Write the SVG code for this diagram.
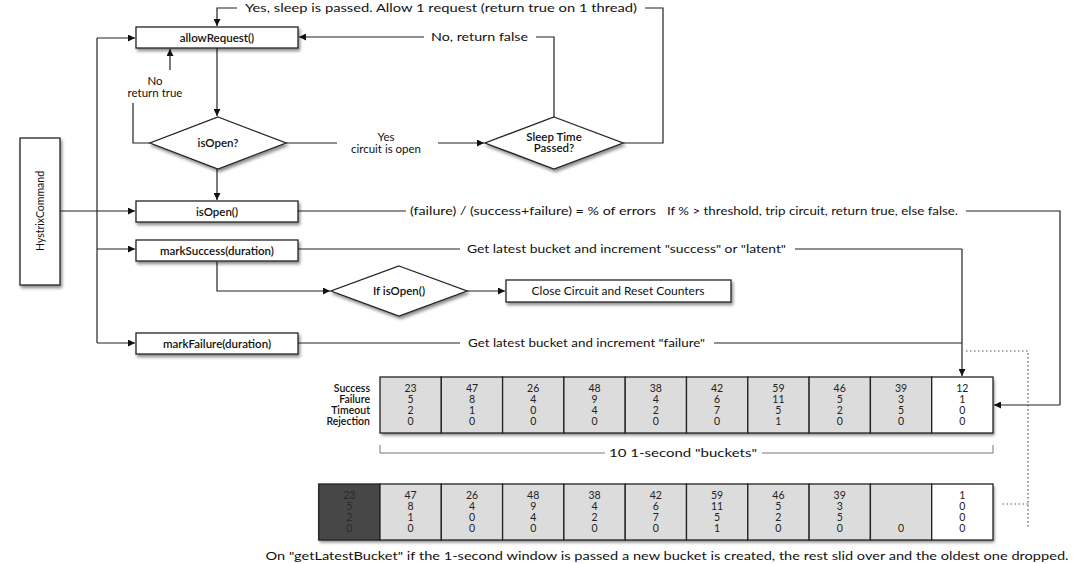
<svg xmlns="http://www.w3.org/2000/svg" width="1080" height="564" viewBox="0 0 1080 564">
<defs>
<marker id="ah" viewBox="0 0 10 10" refX="10" refY="5" markerWidth="9" markerHeight="7" markerUnits="userSpaceOnUse" orient="auto">
<path d="M0,0 L10,5 L0,10 z" fill="#111"/>
</marker>
<filter id="sh" x="-10%" y="-20%" width="125%" height="160%">
<feDropShadow dx="1.5" dy="2.5" stdDeviation="1.8" flood-color="#000" flood-opacity="0.45"/>
</filter>
<style>
text{font-family:Lato,"Open Sans","Liberation Sans",sans-serif;fill:#111}
.box{fill:#fff;stroke:#222;stroke-width:1.3;filter:url(#sh)}
.bt{font-size:11.5px;font-weight:600;text-anchor:middle}
.lbl{font-size:11.5px}
.ln{fill:none;stroke:#222;stroke-width:1.2}
.arr{fill:none;stroke:#222;stroke-width:1.2;marker-end:url(#ah)}
.dot{fill:none;stroke:#555;stroke-width:1.2;stroke-dasharray:1.5 2.5}
.cell{stroke:#222;stroke-width:1.3}
.g{fill:#dcdcdc}
.w{fill:#fff}
.d{fill:#474747}
.num{font-size:10.5px;text-anchor:middle;fill:#222}
.dn{font-size:10.5px;text-anchor:middle;fill:#2a2a2a}
.rl{font-size:10.5px;font-weight:600;text-anchor:end}
.thin{fill:none;stroke:#777;stroke-width:1}
</style>
</defs>
<rect width="1080" height="564" fill="#fff"/>

<g id="connectors">
<path class="ln" d="M97,343 V38"/>
<path class="arr" d="M97,38 H135"/>
<path class="arr" d="M60,211 H135"/>
<path class="arr" d="M97,249 H135"/>
<path class="arr" d="M97,343 H135"/>
<path class="arr" d="M237,8 H217 V26"/>
<path class="ln" d="M645,8 H663 V143 H623"/>
<path class="ln" d="M554,117 V37 H536"/>
<path class="arr" d="M424,37 H299"/>
<path class="arr" d="M217,48 V116"/>
<path class="ln" d="M150,143 H133 V103"/>
<path class="arr" d="M170,70 V49"/>
<path class="ln" d="M286,143 H337"/>
<path class="arr" d="M438,143 H484"/>
<path class="arr" d="M217,169 V200"/>
<path class="ln" d="M298,211 H406"/>
<path class="ln" d="M966,211 H1060 V405"/>
<path class="arr" d="M1060,405 H994"/>
<path class="ln" d="M298,249 H460"/>
<path class="ln" d="M795,249 H962"/>
<path class="arr" d="M962,249 V376"/>
<path class="arr" d="M217,262 V291 H330"/>
<path class="arr" d="M467,291 H505"/>
<path class="ln" d="M298,343 H460"/>
<path class="ln" d="M714,343 H962"/>
<path class="dot" d="M966,351 H1028 V528"/>
<path class="dot" d="M1028,504 H1000"/>
<path class="thin" d="M380,445 V453 H605"/>
<path class="thin" d="M762,453 H993 V445"/>
</g>

<g id="hystrixCommand">
<rect class="box" x="20" y="138" width="40" height="147"/>
<text x="40" y="211" transform="rotate(-90 40 211)" text-anchor="middle" dy="4" font-size="10.5">HystrixCommand</text>
</g>

<g id="allowRequest">
<rect class="box" x="136" y="27" width="162" height="21"/>
<text class="bt" x="217" y="41.5">allowRequest()</text>
</g>

<g id="isOpenDecision">
<polygon class="box" points="218,117 286,143 218,169 150,143"/>
<text class="bt" x="218" y="147">isOpen?</text>
</g>

<g id="sleepTimeDecision">
<polygon class="box" points="554,117 623,143 554,169 485,143"/>
<text class="bt" x="554" y="141" font-size="10.5">Sleep Time</text>
<text class="bt" x="554" y="152" font-size="10.5">Passed?</text>
</g>

<g id="isOpenBox">
<rect class="box" x="136" y="201" width="162" height="21"/>
<text class="bt" x="217" y="215.5">isOpen()</text>
</g>

<g id="markSuccess">
<rect class="box" x="136" y="240" width="162" height="21"/>
<text class="bt" x="217" y="254.5">markSuccess(duration)</text>
</g>

<g id="ifIsOpenDecision">
<polygon class="box" points="399,266 467,291 399,316 331,291"/>
<text class="bt" x="399" y="295">If isOpen()</text>
</g>

<g id="closeCircuit">
<rect class="box" x="506" y="280" width="225" height="22"/>
<text x="618" y="295" text-anchor="middle" font-size="12">Close Circuit and Reset Counters</text>
</g>

<g id="markFailure">
<rect class="box" x="136" y="333" width="162" height="21"/>
<text class="bt" x="217" y="347.5">markFailure(duration)</text>
</g>

<g id="labels">
<text class="lbl" x="245" y="12" textLength="392" lengthAdjust="spacingAndGlyphs">Yes, sleep is passed.  Allow 1 request (return true on 1 thread)</text>
<text class="lbl" x="431" y="41" textLength="97" lengthAdjust="spacingAndGlyphs">No, return false</text>
<text class="lbl" x="155" y="85" text-anchor="middle">No</text>
<text class="lbl" x="155" y="97" text-anchor="middle">return true</text>
<text class="lbl" x="386" y="141" text-anchor="middle">Yes</text>
<text class="lbl" x="386" y="153" text-anchor="middle">circuit is open</text>
<text class="lbl" x="410" y="215" font-size="10.5" textLength="246" lengthAdjust="spacingAndGlyphs">(failure) / (success+failure) = % of errors</text>
<text class="lbl" x="667" y="215" font-size="10.5" textLength="291" lengthAdjust="spacingAndGlyphs">If % &gt; threshold, trip circuit, return true, else false.</text>
<text class="lbl" x="467" y="253" textLength="319" lengthAdjust="spacingAndGlyphs">Get latest bucket and increment "success" or "latent"</text>
<text class="lbl" x="468" y="347" textLength="237" lengthAdjust="spacingAndGlyphs">Get latest bucket and increment "failure"</text>
<text class="lbl" x="683" y="457" text-anchor="middle" font-size="12" textLength="148" lengthAdjust="spacingAndGlyphs">10 1-second "buckets"</text>
<text class="lbl" x="667" y="560" text-anchor="middle" font-size="11" textLength="803" lengthAdjust="spacingAndGlyphs">On "getLatestBucket" if the 1-second window is passed a new bucket is created, the rest slid over and the oldest one dropped.</text>
</g>

<g id="buckets">
<rect x="380" y="377" width="613" height="56" fill="#dcdcdc" filter="url(#sh)"/>
<rect class="cell g" x="380" y="377" width="61.3" height="56"/>
<rect class="cell g" x="441.3" y="377" width="61.3" height="56"/>
<rect class="cell g" x="502.6" y="377" width="61.3" height="56"/>
<rect class="cell g" x="563.9" y="377" width="61.3" height="56"/>
<rect class="cell g" x="625.2" y="377" width="61.3" height="56"/>
<rect class="cell g" x="686.5" y="377" width="61.3" height="56"/>
<rect class="cell g" x="747.8" y="377" width="61.3" height="56"/>
<rect class="cell g" x="809.1" y="377" width="61.3" height="56"/>
<rect class="cell g" x="870.4" y="377" width="61.3" height="56"/>
<rect class="cell w" x="931.7" y="377" width="61.3" height="56"/>
<text class="rl" x="370" y="392">Success</text>
<text class="rl" x="370" y="403">Failure</text>
<text class="rl" x="370" y="414">Timeout</text>
<text class="rl" x="370" y="425">Rejection</text>
<text class="num" x="410.6" y="392">23</text><text class="num" x="410.6" y="403">5</text><text class="num" x="410.6" y="414">2</text><text class="num" x="410.6" y="425">0</text>
<text class="num" x="472" y="392">47</text><text class="num" x="472" y="403">8</text><text class="num" x="472" y="414">1</text><text class="num" x="472" y="425">0</text>
<text class="num" x="533.2" y="392">26</text><text class="num" x="533.2" y="403">4</text><text class="num" x="533.2" y="414">0</text><text class="num" x="533.2" y="425">0</text>
<text class="num" x="594.5" y="392">48</text><text class="num" x="594.5" y="403">9</text><text class="num" x="594.5" y="414">4</text><text class="num" x="594.5" y="425">0</text>
<text class="num" x="655.8" y="392">38</text><text class="num" x="655.8" y="403">4</text><text class="num" x="655.8" y="414">2</text><text class="num" x="655.8" y="425">0</text>
<text class="num" x="717.1" y="392">42</text><text class="num" x="717.1" y="403">6</text><text class="num" x="717.1" y="414">7</text><text class="num" x="717.1" y="425">0</text>
<text class="num" x="778.4" y="392">59</text><text class="num" x="778.4" y="403">11</text><text class="num" x="778.4" y="414">5</text><text class="num" x="778.4" y="425">1</text>
<text class="num" x="839.7" y="392">46</text><text class="num" x="839.7" y="403">5</text><text class="num" x="839.7" y="414">2</text><text class="num" x="839.7" y="425">0</text>
<text class="num" x="901" y="392">39</text><text class="num" x="901" y="403">3</text><text class="num" x="901" y="414">5</text><text class="num" x="901" y="425">0</text>
<text class="num" x="962.3" y="392">12</text><text class="num" x="962.3" y="403">1</text><text class="num" x="962.3" y="414">0</text><text class="num" x="962.3" y="425">0</text>
</g>

<g id="bucketsShifted">
<rect x="318" y="484" width="675" height="56" fill="#dcdcdc" filter="url(#sh)"/>
<rect class="cell d" x="318.7" y="484" width="61.3" height="56"/>
<rect class="cell g" x="380" y="484" width="61.3" height="56"/>
<rect class="cell g" x="441.3" y="484" width="61.3" height="56"/>
<rect class="cell g" x="502.6" y="484" width="61.3" height="56"/>
<rect class="cell g" x="563.9" y="484" width="61.3" height="56"/>
<rect class="cell g" x="625.2" y="484" width="61.3" height="56"/>
<rect class="cell g" x="686.5" y="484" width="61.3" height="56"/>
<rect class="cell g" x="747.8" y="484" width="61.3" height="56"/>
<rect class="cell g" x="809.1" y="484" width="61.3" height="56"/>
<rect class="cell g" x="870.4" y="484" width="61.3" height="56"/>
<rect class="cell w" x="931.7" y="484" width="61.3" height="56"/>
<text class="dn" x="349.3" y="499">23</text><text class="dn" x="349.3" y="510">5</text><text class="dn" x="349.3" y="521">2</text><text class="dn" x="349.3" y="532">0</text>
<text class="num" x="410.6" y="499">47</text><text class="num" x="410.6" y="510">8</text><text class="num" x="410.6" y="521">1</text><text class="num" x="410.6" y="532">0</text>
<text class="num" x="472" y="499">26</text><text class="num" x="472" y="510">4</text><text class="num" x="472" y="521">0</text><text class="num" x="472" y="532">0</text>
<text class="num" x="533.2" y="499">48</text><text class="num" x="533.2" y="510">9</text><text class="num" x="533.2" y="521">4</text><text class="num" x="533.2" y="532">0</text>
<text class="num" x="594.5" y="499">38</text><text class="num" x="594.5" y="510">4</text><text class="num" x="594.5" y="521">2</text><text class="num" x="594.5" y="532">0</text>
<text class="num" x="655.8" y="499">42</text><text class="num" x="655.8" y="510">6</text><text class="num" x="655.8" y="521">7</text><text class="num" x="655.8" y="532">0</text>
<text class="num" x="717.1" y="499">59</text><text class="num" x="717.1" y="510">11</text><text class="num" x="717.1" y="521">5</text><text class="num" x="717.1" y="532">1</text>
<text class="num" x="778.4" y="499">46</text><text class="num" x="778.4" y="510">5</text><text class="num" x="778.4" y="521">2</text><text class="num" x="778.4" y="532">0</text>
<text class="num" x="839.7" y="499">39</text><text class="num" x="839.7" y="510">3</text><text class="num" x="839.7" y="521">5</text><text class="num" x="839.7" y="532">0</text>
<text class="num" x="901" y="532">0</text>
<text class="num" x="962.3" y="499">1</text><text class="num" x="962.3" y="510">0</text><text class="num" x="962.3" y="521">0</text><text class="num" x="962.3" y="532">0</text>
</g>
</svg>
